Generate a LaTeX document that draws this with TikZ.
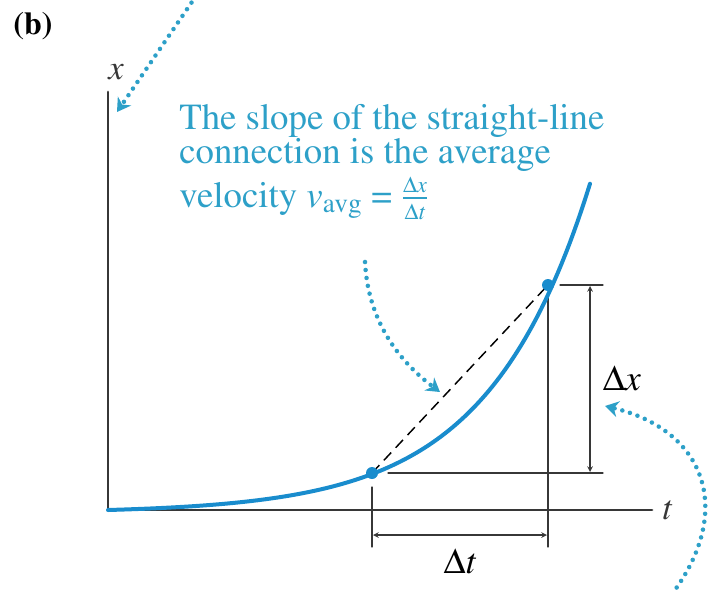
\documentclass[tikz,border=0pt]{standalone}
\usepackage{amsmath}
\usepackage[T1]{fontenc}
\usepackage{mathptmx}
\usetikzlibrary{arrows.meta}
\definecolor{curveblue}{RGB}{25,140,205}
\definecolor{noteblue}{RGB}{45,160,200}
\definecolor{dimgray}{RGB}{55,55,55}
\newcommand{\smallpart}[1]{\text{\fontsize{17}{17}\selectfont$\Delta$\textit{#1}}}
\begin{document}
\begin{tikzpicture}[>=stealth,line join=round,line cap=round,x=0.75pt,y=-0.75pt,
    hint/.style={noteblue,line width=3.4pt,dash pattern=on 0pt off 6pt,-{Stealth[length=10pt,width=12pt]}},
    dim/.style={dimgray,line width=0.9pt},
    axis/.style={dimgray,line width=2.2pt}]
	\useasboundingbox (0,0) rectangle (714,590);
	\node[font=\fontsize{24}{24}\selectfont\bfseries] (lbl) at (33,26) {(b)};
	% points
	\coordinate (O) at (108,510);
	\coordinate (ytop) at (108,92);
	\coordinate (tend) at (652,510);
	\coordinate (P1) at (372,473);
	\coordinate (P2) at (548,285);
	% axes
	\draw[axis] (O) -- (ytop);
	\draw[axis] (O) -- (tend);
	\node[dimgray,font=\itshape\fontsize{26}{26}\selectfont] (xl) at (116,72) {x};
	\node[dimgray,font=\itshape\fontsize{26}{26}\selectfont] (tl) at (667,510) {t};
	% extension lines
	\coordinate (e1a) at (372,487); \coordinate (e1b) at (372,547);
	\coordinate (e2a) at (548,296); \coordinate (e2b) at (548,547);
	\coordinate (h1a) at (388,473); \coordinate (h1b) at (603,473);
	\coordinate (h2a) at (560,285); \coordinate (h2b) at (603,285);
	\draw[dim] (e1a) -- (e1b);
	\draw[dim] (e2a) -- (e2b);
	\draw[dim] (h1a) -- (h1b);
	\draw[dim] (h2a) -- (h2b);
	% dimension arrows
	\coordinate (dxa) at (590,286); \coordinate (dxb) at (590,472);
	\coordinate (dta) at (373,535); \coordinate (dtb) at (547,535);
	\draw[dim,<->] (dxa) -- (dxb);
	\draw[dim,<->] (dta) -- (dtb);
	\node[font=\fontsize{27}{27}\selectfont] (dx) at (622,378) {$\Delta$\textit{x}};
	\node[font=\fontsize{27}{27}\selectfont] (dt) at (460,561) {$\Delta$\textit{t}};
	% curve and chord
	\draw[black,line width=1.1pt,line cap=butt,dash pattern=on 8pt off 5pt] (P1) -- (P2);
	\draw[curveblue,line width=3pt] plot[domain=0:482,samples=120] ({108+\x},{510-2.93*(exp(0.0098*\x)-1)});
	\fill[curveblue] (P1) circle (4.5pt);
	\fill[curveblue] (P2) circle (4.5pt);
	% note
	\node[noteblue,align=left,anchor=north west,inner sep=0pt,font=\fontsize{27.6}{26}\selectfont] (note) at (179,104)
	  {The slope of the straight-line\\connection is the average\\[3pt]velocity \textit{v}$_{\text{avg}}$ = $\frac{\smallpart{x}}{\smallpart{t}}$};
	% hint arrows
	\coordinate (a1s) at (196,-4); \coordinate (a1e) at (117,112);
	\coordinate (a2s) at (365,262); \coordinate (a2e) at (440,392);
	\coordinate (a3s) at (672,594); \coordinate (a3e) at (605,406);
	\draw[hint] (a1s) -- (a1e);
	\draw[hint] (a2s) .. controls (368,322) and (400,362) .. (a2e);
	\draw[hint] (a3s) .. controls (735,510) and (705,430) .. (a3e);
\end{tikzpicture}
\end{document}
